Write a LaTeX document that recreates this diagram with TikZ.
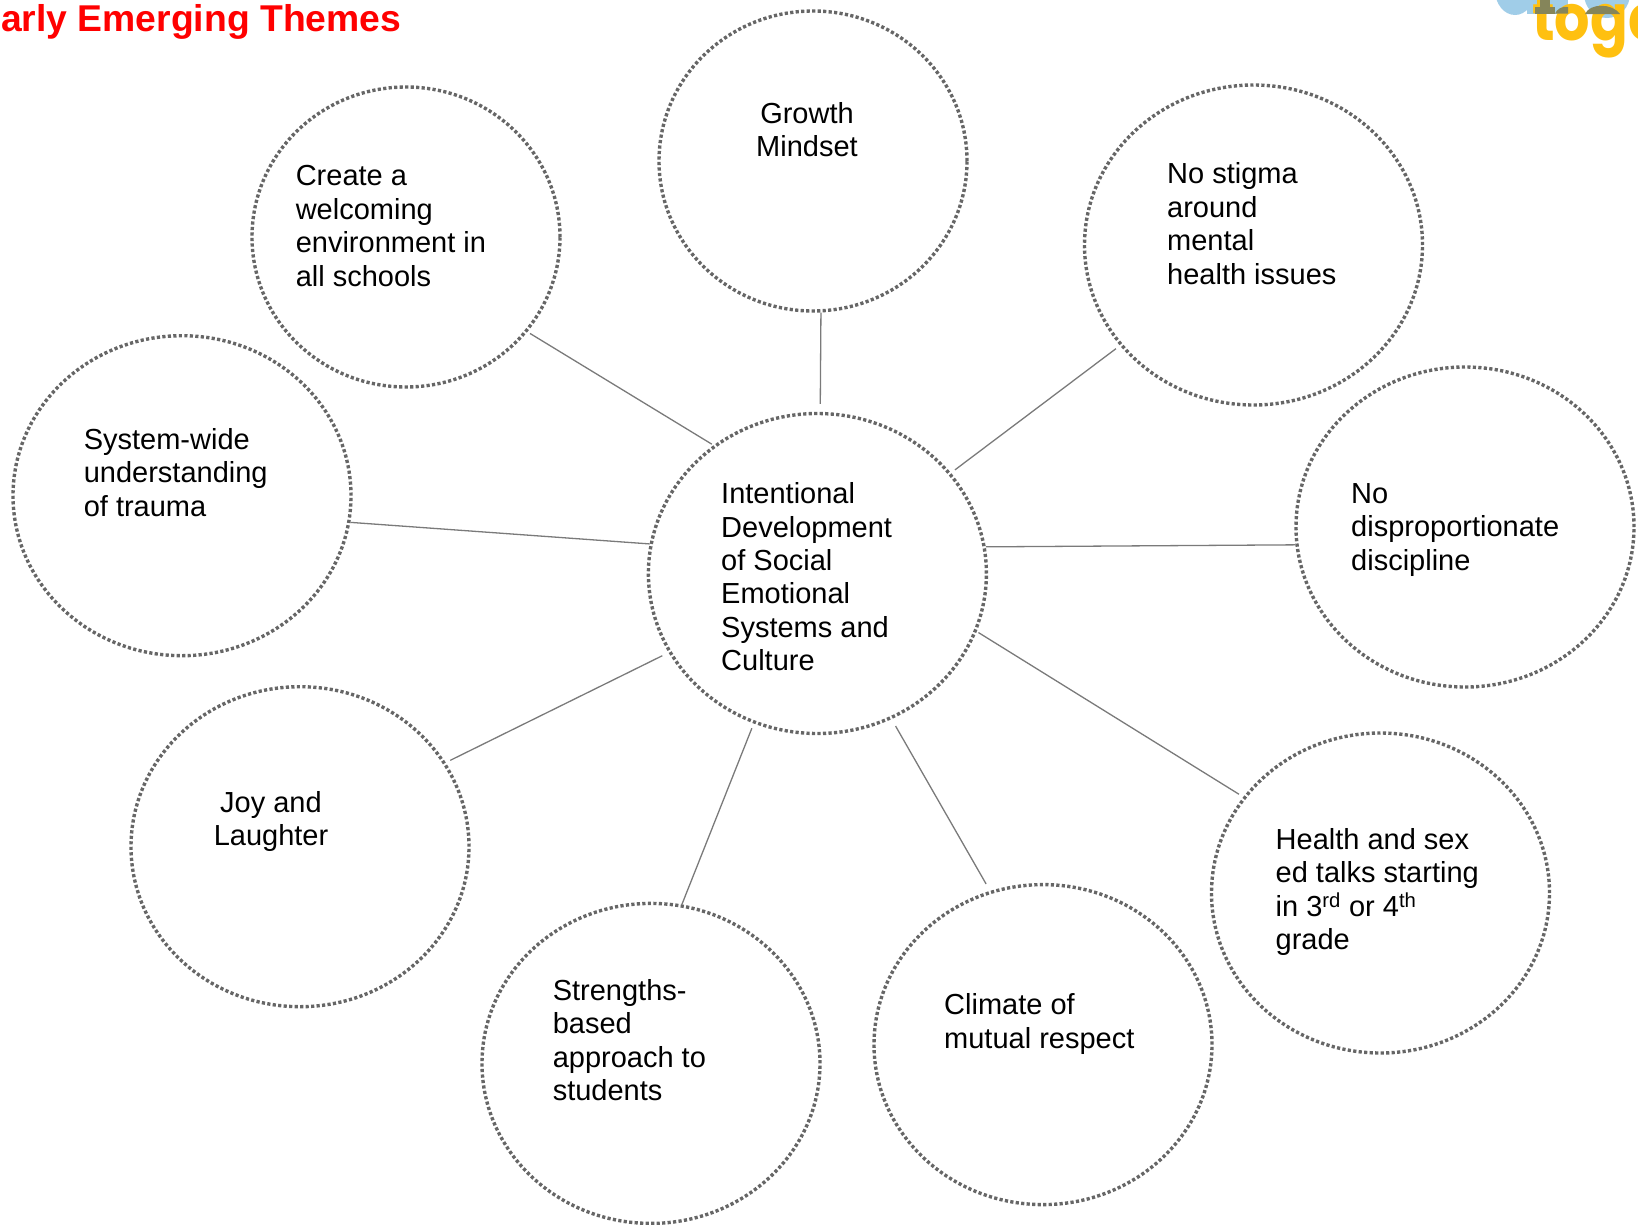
\documentclass[tikz,border=0pt]{standalone}
\usepackage{fontspec}
\setmainfont{Liberation Sans}
\newfontfamily\logofont[FakeStretch=0.87]{Poppins}
\usetikzlibrary{shapes.geometric}
\definecolor{ringgray}{HTML}{666666}
\definecolor{linkgray}{HTML}{7A7A7A}
\definecolor{logoblue}{HTML}{A0CDE8}
\definecolor{logoyellow}{HTML}{FFC010}
\definecolor{logoolive}{HTML}{85855A}
\tikzset{
  ring/.style={ellipse,draw=ringgray,line width=3.4pt,dash pattern=on 3.2pt off 2.3pt,inner sep=0pt,minimum width=338pt,minimum height=320pt},
  smallring/.style={ring,minimum width=308pt,minimum height=300pt},
  label/.style={font=\fontsize{29}{33.4}\selectfont,inner sep=0pt,align=left,anchor=base west,text=black},
  clabel/.style={label,align=center,anchor=base},
  link/.style={draw=linkgray,line width=1.3pt},
}
\begin{document}
\begin{tikzpicture}[x=1pt,y=-1pt]
\useasboundingbox (0,0) rectangle (1638,1224);
\clip (0,0) rectangle (1638,1224);
% logo
\fill[logoblue] (1515,-10) ellipse (20 and 25);
\fill[logoblue] (1527,-5) rectangle (1568,13.6);
\fill[logoblue] (1607,-6) ellipse (23 and 24);
\node[font=\logofont\bfseries\fontsize{64}{64}\selectfont,text=logoyellow,inner sep=0pt,anchor=base west] (logo) at (1532,40) {toge};
\fill[logoolive] (1540,0) rectangle (1550,13.6);
\fill[logoolive] (1535,7) rectangle (1555,13.6);
\fill[logoolive] (1555,13.6) -- (1568,13.6) -- (1568,7) .. controls (1562,6) and (1557,9) .. (1555,13.6) -- cycle;
\fill[logoolive] (1585,14) .. controls (1590,3) and (1612,3) .. (1620,14) -- cycle;
% title
\node[font=\bfseries\fontsize{37.3}{40}\selectfont,text=red,inner sep=0pt,anchor=base east] (title) at (401.5,31) {Early Emerging Themes};
% rings
\node[ring] (hub) at (817.4,573.5) {};
\node[smallring] (growth) at (813,161) {};
\node[smallring] (create) at (406,237) {};
\node[ring] (stigma) at (1253.5,245) {};
\node[ring] (discipline) at (1465,527) {};
\node[ring] (health) at (1380.5,893) {};
\node[ring] (climate) at (1043,1044.6) {};
\node[ring] (strengths) at (651,1063.4) {};
\node[ring] (joy) at (300,846.7) {};
\node[ring] (trauma) at (182,495.7) {};
% labels
\node[label] (hubtext) at (721,670.6) {Intentional\\Development\\of Social\\Emotional\\Systems and\\Culture};
\node[clabel] (growthtext) at (807,156.7) {Growth\\Mindset};
\node[label] (createtext) at (295.6,286) {Create a\\welcoming\\environment in\\all schools};
\node[label] (stigmatext) at (1167,284) {No stigma\\around\\mental\\health issues};
\node[label] (disciplinetext) at (1351,570) {No\\disproportionate\\discipline};
\node[label] (healthtext) at (1275.5,949.6) {Health and sex\\ed talks starting\\in 3\textsuperscript{rd} or 4\textsuperscript{th}\\grade};
\node[label] (climatetext) at (944,1048) {Climate of\\mutual respect};
\node[label] (strengthstext) at (552.6,1100.5) {Strengths-\\based\\approach to\\students};
\node[clabel] (joytext) at (271,845.5) {Joy and\\Laughter};
\node[label] (traumatext) at (83.6,516) {System-wide\\understanding\\of trauma};
% connectors
\draw[link,shorten <=3pt,shorten >=2pt] (create.-38) -- (hub.129);
\draw[link,shorten >=8pt] (growth.-87.4) -- (hub.89);
\draw[link,shorten <=5pt,shorten >=5pt] (stigma.217) -- (hub.37.6);
\draw[link] (discipline.186.2) -- (hub.9.9);
\draw[link,shorten <=5pt,shorten >=2pt] (health.145) -- (hub.-20.8);
\draw[link,shorten <=8pt,shorten >=8pt] (climate.109.8) -- (hub.-63);
\draw[link,shorten >=5pt] (strengths.79) -- (hub.-113.4);
\draw[link,shorten <=5pt,shorten >=7pt] (joy.30.8) -- (hub.208);
\draw[link] (trauma.-9.5) -- (hub.170);
\end{tikzpicture}
\end{document}
